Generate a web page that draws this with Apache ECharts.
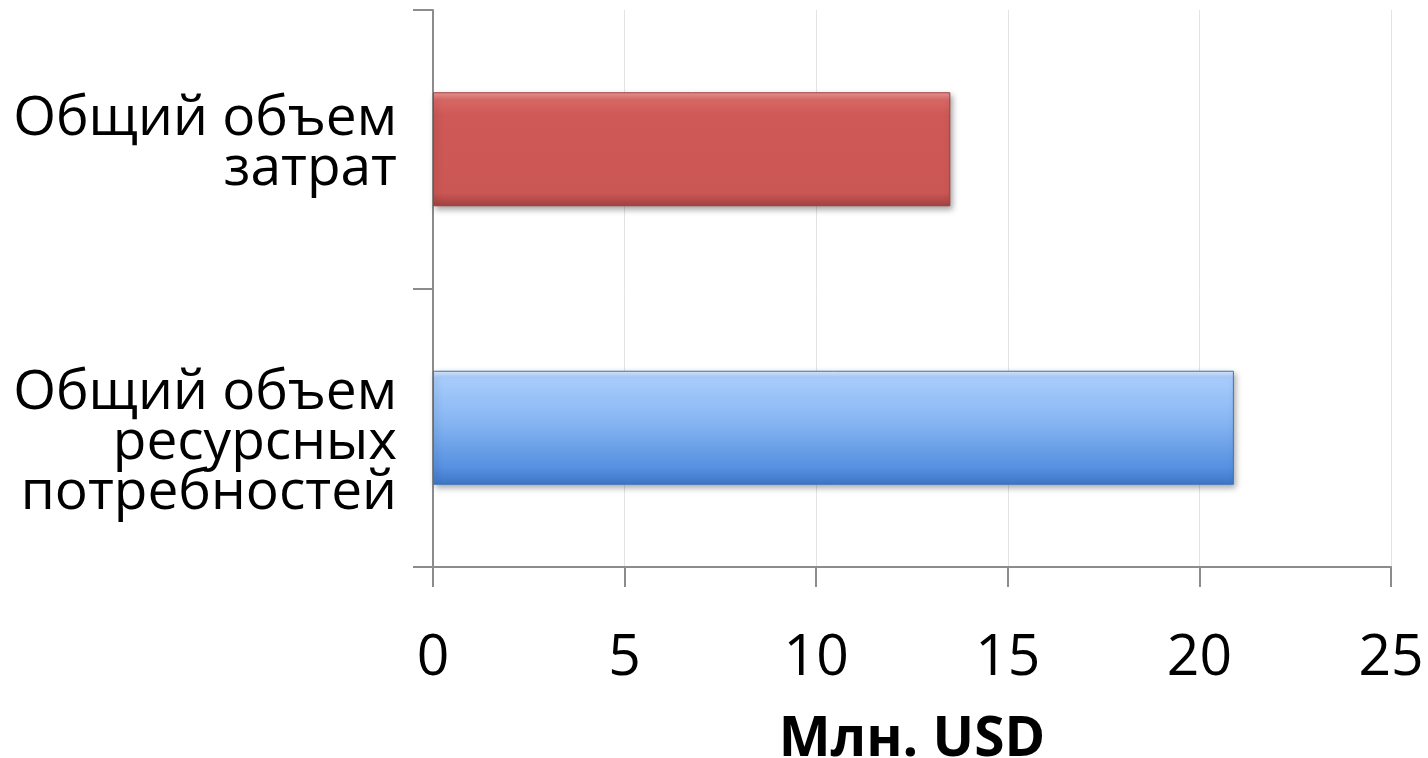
<!DOCTYPE html>
<html>
<head>
<meta charset="utf-8">
<script src="https://cdn.jsdelivr.net/npm/echarts@6/dist/echarts.min.js"></script>
<style>
html,body{margin:0;padding:0;background:#fff;}
#chart{width:1428px;height:758px;}
</style>
</head>
<body>
<div id="chart"></div>
<script>
// Data
const categories = ['Общий объем\nресурсных\nпотребностей', 'Общий объем\nзатрат'];
const values = [20.9, 13.5];
const xTicks = [0, 5, 10, 15, 20, 25];
const axisName = 'Млн. USD';

const FONT = '"Open Sans", "Noto Sans", sans-serif';

const blueFill = new echarts.graphic.LinearGradient(0, 0, 0, 1, [
  {offset: 0, color: '#DCEEFF'},
  {offset: 0.06, color: '#A9CDFD'},
  {offset: 0.45, color: '#86B5F2'},
  {offset: 0.85, color: '#5690E0'},
  {offset: 1, color: '#3F76C6'}
]);
const redFill = new echarts.graphic.LinearGradient(0, 0, 0, 1, [
  {offset: 0, color: '#F09A98'},
  {offset: 0.07, color: '#D86764'},
  {offset: 0.2, color: '#CE5956'},
  {offset: 0.88, color: '#CB5754'},
  {offset: 1, color: '#A34240'}
]);
const fills = [blueFill, redFill];
const borders = ['#3F73BD', '#9C3F3D'];

function labelFormatter(value, index) {
  const lines = value.split('\n').map(l => '{t|' + l + '}');
  if (index === 0) {
    return ['{top| }'].concat(lines).join('\n');
  }
  return lines.concat(['{bot| }']).join('\n');
}

const chart = echarts.init(document.getElementById('chart'), null, {renderer: 'canvas'});
chart.setOption({
  animation: false,
  backgroundColor: '#ffffff',
  grid: {left: 433, right: 37, top: 10, bottom: 191, containLabel: false, outerBoundsMode: 'none'},
  xAxis: {
    type: 'value',
    min: xTicks[0],
    max: xTicks[xTicks.length - 1],
    interval: xTicks[1] - xTicks[0],
    name: axisName,
    nameLocation: 'middle',
    nameGap: 146,
    nameTextStyle: {fontFamily: FONT, fontSize: 55, fontWeight: 'bold', color: '#000'},
    axisLine: {show: true, lineStyle: {color: '#8C8C8C', width: 2}},
    axisTick: {show: true, length: 20, lineStyle: {color: '#8C8C8C', width: 2}},
    axisLabel: {fontFamily: FONT, fontSize: 57, color: '#000', margin: 63},
    splitLine: {show: true, lineStyle: {color: '#E3E3E3', width: 1}}
  },
  yAxis: {
    type: 'category',
    data: categories,
    axisLine: {show: true, lineStyle: {color: '#8C8C8C', width: 2}},
    axisTick: {show: true, length: 20, lineStyle: {color: '#8C8C8C', width: 2}},
    axisLabel: {
      margin: 36,
      align: 'right',
      formatter: labelFormatter,
      rich: {
        t: {fontFamily: FONT, fontSize: 55, color: '#000', lineHeight: 50, align: 'right'},
        top: {fontSize: 10, lineHeight: 32},
        bot: {fontSize: 10, lineHeight: 10}
      }
    },
    splitLine: {show: false}
  },
  series: [{
    type: 'bar',
    barWidth: 114,
    data: values.map((v, i) => ({
      value: v,
      itemStyle: {
        color: fills[i],
        borderColor: borders[i],
        borderWidth: 1,
        shadowColor: 'rgba(0,0,0,0.35)',
        shadowBlur: 6,
        shadowOffsetX: 2,
        shadowOffsetY: 3
      }
    }))
  }]
});
</script>
</body>
</html>
